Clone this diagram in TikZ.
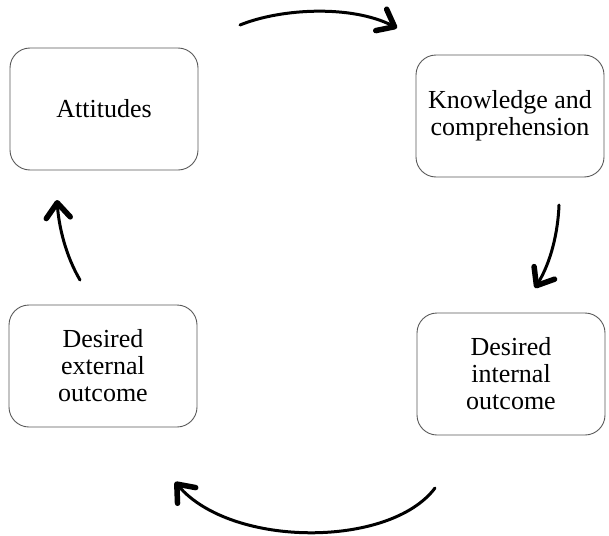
\documentclass[tikz,border=0pt]{standalone}
\usepackage{fontspec}
\setmainfont{Liberation Serif}
\usetikzlibrary{arrows.meta}
\begin{document}
\begin{tikzpicture}[x=1pt,y=-1pt,
  stagebox/.style={draw=black!65, line width=0.9pt, rounded corners=20pt,
    minimum width=188pt, minimum height=122pt, align=center, inner sep=0pt,
    font=\fontsize{26}{27}\selectfont},
  cyclearrow/.style={line width=3pt, line cap=round,
    -{Straight Barb[length=15pt,width=24pt,line width=5.5pt,round]}}]
\useasboundingbox (0,0) rectangle (609,535);

% the four stages of the cycle
\node[stagebox] (att)  at (104,109) {Attitudes};
\node[stagebox] (know) at (510,116) {Knowledge and\\comprehension};
\node[stagebox] (int)  at (511,374) {Desired\\internal\\outcome};
\node[stagebox] (ext)  at (103,366) {Desired\\external\\outcome};

% free ends of the curved arrows between the stages
\coordinate (a1s) at (240,25);  \coordinate (a1e) at (397,28);
\coordinate (a2s) at (559,205); \coordinate (a2e) at (535,288);
\coordinate (a3s) at (435,488); \coordinate (a3e) at (175,482);
\coordinate (a4s) at (80,280);  \coordinate (a4e) at (57,200);

\draw[cyclearrow] (a1s) .. controls (282,8) and (352,5) .. (a1e);
\draw[cyclearrow] (a2s) .. controls (558,232) and (551,262) .. (a2e);
\draw[cyclearrow] (a3s) .. controls (390,548) and (232,548) .. (a3e);
\draw[cyclearrow] (a4s) .. controls (66,256) and (59,228) .. (a4e);
\end{tikzpicture}
\end{document}
